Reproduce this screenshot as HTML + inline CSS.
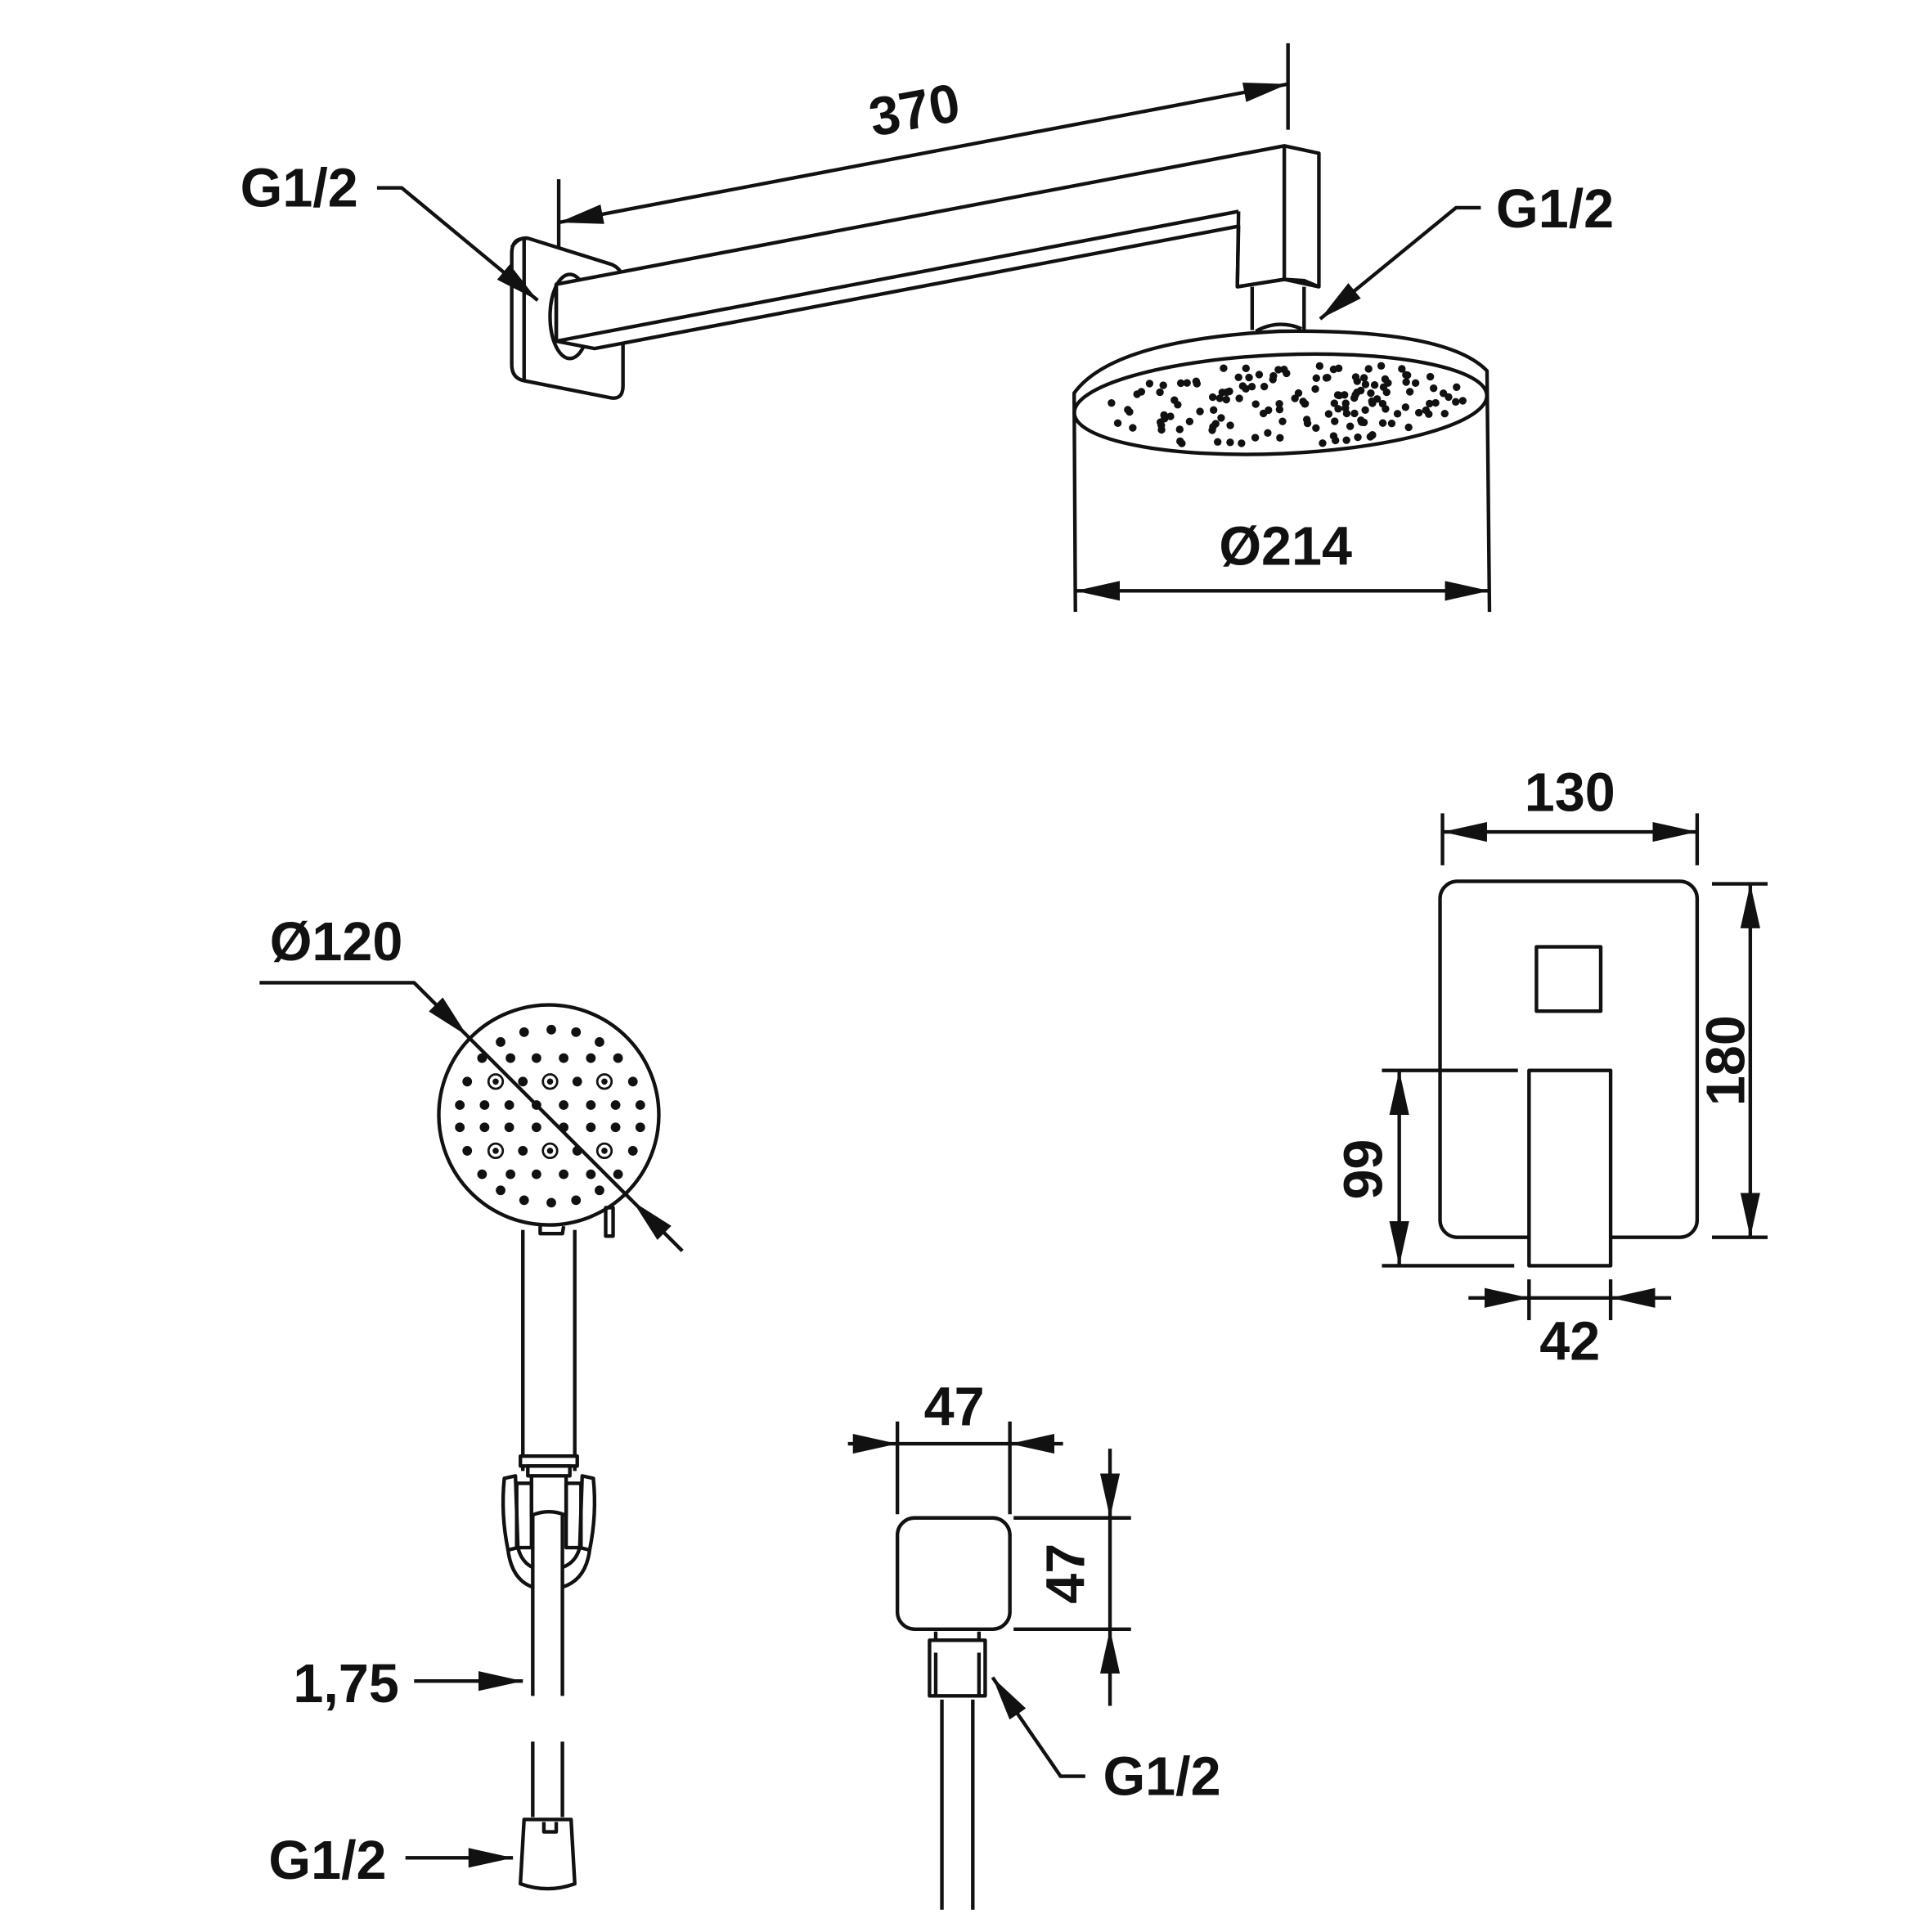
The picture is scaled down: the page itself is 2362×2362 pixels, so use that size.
<!DOCTYPE html>
<html><head><meta charset="utf-8"><style>
html,body{margin:0;padding:0;background:#fff}
svg{display:block}
text{font-family:"Liberation Sans",sans-serif;font-weight:bold;fill:#111}
</style></head><body>
<svg id="s" xmlns="http://www.w3.org/2000/svg" width="2362" height="2362" viewBox="0 0 1563 1563">
<defs>
<marker id="a" markerUnits="userSpaceOnUse" markerWidth="40" markerHeight="20" refX="36" refY="8" orient="auto-start-reverse" viewBox="0 0 40 16">
<path d="M0,0 L36,8 L0,16 z" fill="#111"/>
</marker>
</defs>
<g fill="none" stroke="#111" stroke-width="2.9" stroke-linejoin="round">
<line x1="452" y1="145" x2="452" y2="235"/>
<line x1="1042" y1="35" x2="1042" y2="105"/>
<line x1="452" y1="180" x2="1042" y2="68" marker-start="url(#a)" marker-end="url(#a)"/>
<path d="M424,193 Q414,193 414,205 L414,295 Q414,306 424,308 L495,322 Q504,323 504,312 L504,228 Q504,218 495,214 L428,193 Q420,191 414,200" fill="#fff"/>
<line x1="424" y1="193" x2="424" y2="308"/>
<ellipse cx="461" cy="256" rx="16" ry="34" fill="#fff"/>
<path d="M450,230 L1039,118 L1067,124 L1067,232 L1055,227 L1039,226 L1001,232 L1002,183 L481,282 L450,276 Z" fill="#fff"/>
<line x1="450" y1="230" x2="450" y2="276"/>
<line x1="1039" y1="118" x2="1039" y2="226"/>
<line x1="1002" y1="171" x2="1001" y2="232"/>
<line x1="450" y1="276" x2="1002" y2="171"/>
<line x1="1001" y1="232" x2="1039" y2="226"/><line x1="1039" y1="226" x2="1067" y2="232"/>
<line x1="1013" y1="232" x2="1013" y2="267"/>
<line x1="1055" y1="232" x2="1055" y2="267"/>
<path d="M1016,268 Q1034,258 1053,266"/>
<path d="M870,495 L869,318 Q900,275 1035,268 Q1170,266 1203,300 L1205,495"/>
<ellipse cx="1036" cy="327" rx="167" ry="40" transform="rotate(-2.5 1036 327)"/>
<line x1="870" y1="478" x2="1205" y2="478" marker-start="url(#a)" marker-end="url(#a)"/>
<polyline points="305,152 325,152 435,243" marker-end="url(#a)"/>
<polyline points="1198,168 1178,168 1068,258" marker-end="url(#a)"/>
<circle cx="444" cy="902" r="89"/>
<path d="M437,992 L437,998 L455,998 L456,992"/>
<line x1="423" y1="995" x2="423" y2="1190"/>
<line x1="465" y1="995" x2="465" y2="1190"/>
<rect x="490" y="977" width="6" height="23"/>
<polyline points="210,795 335,795 378,838" marker-end="url(#a)"/>
<line x1="378" y1="838" x2="512" y2="972"/>
<line x1="552" y1="1012" x2="512" y2="972" marker-end="url(#a)"/>
<rect x="421" y="1178" width="46" height="8" fill="#fff"/>
<rect x="427" y="1186" width="34" height="8"/>
<path d="M408,1196 L417,1194 L419,1252 L411,1254 Q405,1225 408,1196 Z"/>
<rect x="418" y="1200" width="12" height="52"/>
<path d="M480,1196 L471,1194 L469,1252 L477,1254 Q483,1225 480,1196 Z"/>
<rect x="458" y="1200" width="12" height="52"/>
<path d="M430,1194 L430,1226 Q444,1220 458,1226 L458,1194"/>
<path d="M411,1254 Q414,1278 431,1284 M419,1252 Q422,1264 431,1268"/>
<path d="M477,1254 Q474,1278 455,1284 M469,1252 Q466,1264 455,1268"/>
<line x1="431" y1="1226" x2="431" y2="1372"/>
<line x1="455" y1="1226" x2="455" y2="1372"/>
<line x1="431" y1="1409" x2="431" y2="1470"/>
<line x1="455" y1="1409" x2="455" y2="1470"/>
<path d="M424,1472 L462,1472 L465,1524 Q443,1532 421,1524 Z" fill="#fff"/>
<path d="M440,1474 L440,1482 L450,1482 L450,1474"/>
<polyline points="335,1360 385,1360 423,1360" marker-end="url(#a)"/>
<polyline points="328,1503 415,1503" marker-end="url(#a)"/>
<rect x="1165" y="713" width="208" height="288" rx="14"/>
<rect x="1243" y="766" width="52" height="52"/>
<rect x="1237" y="866" width="66" height="158" fill="#fff"/>
<line x1="1167" y1="658" x2="1167" y2="700"/>
<line x1="1373" y1="658" x2="1373" y2="700"/>
<line x1="1167" y1="673" x2="1373" y2="673" marker-start="url(#a)" marker-end="url(#a)"/>
<line x1="1385" y1="715" x2="1430" y2="715"/>
<line x1="1385" y1="1001" x2="1430" y2="1001"/>
<line x1="1416" y1="715" x2="1416" y2="1001" marker-start="url(#a)" marker-end="url(#a)"/>
<line x1="1118" y1="866" x2="1228" y2="866"/>
<line x1="1118" y1="1024" x2="1225" y2="1024"/>
<line x1="1132" y1="866" x2="1132" y2="1024" marker-start="url(#a)" marker-end="url(#a)"/>
<line x1="1237" y1="1035" x2="1237" y2="1068"/>
<line x1="1303" y1="1035" x2="1303" y2="1068"/>
<line x1="1188" y1="1050" x2="1237" y2="1050" marker-end="url(#a)"/>
<line x1="1352" y1="1050" x2="1303" y2="1050" marker-end="url(#a)"/>
<line x1="1237" y1="1050" x2="1303" y2="1050"/>
<rect x="726" y="1228" width="91" height="90" rx="14"/>
<path d="M757,1320 L757,1327 L792,1327 L792,1320"/>
<path d="M752,1327 L797,1327 L797,1372 L752,1372 Z"/>
<line x1="757" y1="1337" x2="757" y2="1372"/>
<line x1="792" y1="1337" x2="792" y2="1372"/>
<line x1="762" y1="1375" x2="762" y2="1545"/>
<line x1="787" y1="1375" x2="787" y2="1545"/>
<line x1="726" y1="1150" x2="726" y2="1225"/>
<line x1="817" y1="1150" x2="817" y2="1225"/>
<line x1="686" y1="1168" x2="726" y2="1168" marker-end="url(#a)"/>
<line x1="860" y1="1168" x2="817" y2="1168" marker-end="url(#a)"/>
<line x1="726" y1="1168" x2="817" y2="1168"/>
<line x1="820" y1="1228" x2="915" y2="1228"/>
<line x1="820" y1="1318" x2="915" y2="1318"/>
<line x1="898" y1="1172" x2="898" y2="1228" marker-end="url(#a)"/>
<line x1="898" y1="1380" x2="898" y2="1318" marker-end="url(#a)"/>
<line x1="898" y1="1228" x2="898" y2="1318"/>
<polyline points="878,1437 858,1437 803,1357" marker-end="url(#a)"/>
</g>
<g id="dots" fill="#111"></g>
<g id="hd" fill="#111" stroke="#111" stroke-width="1.8"></g>
<text x="740" y="104" font-size="44" text-anchor="middle" transform="rotate(-10.5 740 90)">370</text>
<text x="242" y="167" font-size="44" text-anchor="middle">G1/2</text>
<text x="1258" y="184" font-size="44" text-anchor="middle">G1/2</text>
<text x="1040" y="457" font-size="44" text-anchor="middle">Ø214</text>
<text x="1270" y="656" font-size="44" text-anchor="middle">130</text>
<text x="0" y="0" font-size="44" text-anchor="middle" transform="translate(1411 858) rotate(-90)">180</text>
<text x="0" y="0" font-size="44" text-anchor="middle" transform="translate(1118 946) rotate(-90)">99</text>
<text x="1270" y="1100" font-size="44" text-anchor="middle">42</text>
<text x="272" y="777" font-size="44" text-anchor="middle">Ø120</text>
<text x="280" y="1377" font-size="44" text-anchor="middle">1,75</text>
<text x="265" y="1520" font-size="44" text-anchor="middle">G1/2</text>
<text x="772" y="1153" font-size="44" text-anchor="middle">47</text>
<text x="0" y="0" font-size="44" text-anchor="middle" transform="translate(877 1273) rotate(-90)">47</text>
<text x="940" y="1452" font-size="44" text-anchor="middle">G1/2</text>
<script>
(function(){
var ns="http://www.w3.org/2000/svg";
var g=document.getElementById("dots");
var seed=7;function r(){seed=(seed*16807)%2147483647;return seed/2147483647;}
var n=0,t=0;
while(n<150&&t<5000){t++;var u=r()*2-1,v=r()*2-1;if(u*u+v*v>0.85)continue;
var x=1036+u*162,y=327+v*37-u*7;
var c=document.createElementNS(ns,"circle");c.setAttribute("cx",x.toFixed(1));c.setAttribute("cy",y.toFixed(1));c.setAttribute("r","3.1");g.appendChild(c);n++;}
var h=document.getElementById("hd");var cx=445,cy=903;
function d(dx,dy){var c=document.createElementNS(ns,"circle");c.setAttribute("cx",cx+dx);c.setAttribute("cy",cy+dy);c.setAttribute("r","3.9");c.setAttribute("stroke","none");h.appendChild(c);}
function ring(dx,dy){var c=document.createElementNS(ns,"circle");c.setAttribute("cx",cx+dx);c.setAttribute("cy",cy+dy);c.setAttribute("r","5.8");c.setAttribute("fill","none");h.appendChild(c);var k=document.createElementNS(ns,"circle");k.setAttribute("cx",cx+dx);k.setAttribute("cy",cy+dy);k.setAttribute("r","2.5");k.setAttribute("stroke","none");h.appendChild(k);}
[-9,9].forEach(function(y){[-73,-53,-33,-11,11,33,53,73].forEach(function(x){d(x,y);});});
[-28,28].forEach(function(y){d(-67,y);ring(-44,y);d(-22,y);ring(0,y);d(22,y);ring(44,y);d(67,y);});
[-47,47].forEach(function(y){[-55,-32,-11,11,33,55].forEach(function(x){d(x,y);});});
[-60,60].forEach(function(y){d(-40,y);d(40,y);});
[-68,68].forEach(function(y){d(-21,y);d(1,y+(y<0?-2:2));d(21,y);});
})();
</script>
</svg>
</body></html>
